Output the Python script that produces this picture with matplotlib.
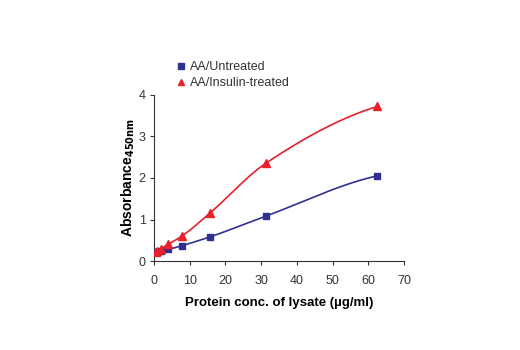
import numpy as np
import matplotlib
matplotlib.use("Agg")
import matplotlib.pyplot as plt

plt.rcParams['font.family'] = ['Liberation Sans Narrow', 'Liberation Sans', 'DejaVu Sans']

conc = [0.49, 0.98, 1.95, 3.9, 7.8, 15.6, 31.25, 62.5]
untreated = [0.22, 0.23, 0.25, 0.28, 0.37, 0.58, 1.08, 2.05]
insulin = [0.22, 0.25, 0.30, 0.40, 0.60, 1.15, 2.35, 3.72]
xticks = [0, 10, 20, 30, 40, 50, 60, 70]
yticks = [0, 1, 2, 3, 4]

NAVY = '#2e3192'
RED = '#e8202a'


def pchip(x, y, xs):
    x = np.asarray(x, float); y = np.asarray(y, float)
    h = np.diff(x); d = np.diff(y) / h
    m = np.zeros_like(y)
    for k in range(1, len(x) - 1):
        if d[k - 1] * d[k] > 0:
            w1 = 2 * h[k] + h[k - 1]; w2 = h[k] + 2 * h[k - 1]
            m[k] = (w1 + w2) / (w1 / d[k - 1] + w2 / d[k])
    m[0] = d[0]
    m[-1] = d[-1] * 0.6
    out = np.empty_like(xs)
    for i, xv in enumerate(xs):
        k = min(max(np.searchsorted(x, xv) - 1, 0), len(x) - 2)
        t = (xv - x[k]) / h[k]
        h00 = 2 * t**3 - 3 * t**2 + 1; h10 = t**3 - 2 * t**2 + t
        h01 = -2 * t**3 + 3 * t**2; h11 = t**3 - t**2
        out[i] = h00 * y[k] + h10 * h[k] * m[k] + h01 * y[k + 1] + h11 * h[k] * m[k + 1]
    return out


fig = plt.figure(figsize=(5.2, 3.5), dpi=100)
ax = fig.add_axes([0.296, 0.254, 0.481, 0.475])

xs = np.linspace(conc[0], conc[-1], 400)
ax.plot(xs, pchip(conc, untreated, xs), color=NAVY, lw=1.2, zorder=2)
ax.plot(xs, pchip(conc, insulin, xs), color=RED, lw=1.2, zorder=2)
ax.plot(conc, untreated, 's', color=NAVY, ms=5, ls='none', zorder=3, label='AA/Untreated')
ax.plot(conc, insulin, '^', color=RED, ms=5.5, ls='none', zorder=3, label='AA/Insulin-treated')

ax.set_xlim(0, 70)
ax.set_ylim(0, 4)
ax.set_xticks(xticks)
ax.set_yticks(yticks)
ax.spines['top'].set_visible(False)
ax.spines['right'].set_visible(False)
for s in ax.spines.values():
    s.set_color('#333333')
ax.tick_params(direction='out', length=3, width=0.8, labelsize=9, color='#333333', labelcolor='#333333')
ax.tick_params(axis='x', pad=7)
ax.tick_params(axis='y', pad=3)
ax.set_xlabel('Protein conc. of lysate (µg/ml)', fontsize=9.5, fontweight='bold', labelpad=7)
ax.set_ylabel('Absorbance$_{\\mathbf{450nm}}$', fontsize=10, fontweight='bold', labelpad=1)

leg = ax.legend(loc='lower left', bbox_to_anchor=(0.075, 1.005), frameon=False, fontsize=9,
                handlelength=0.6, handletextpad=0.35, borderaxespad=0, labelspacing=0.3,
                markerscale=0.85)
for t in leg.get_texts():
    t.set_color('#333333')

fig.savefig('out.png', dpi=100)
